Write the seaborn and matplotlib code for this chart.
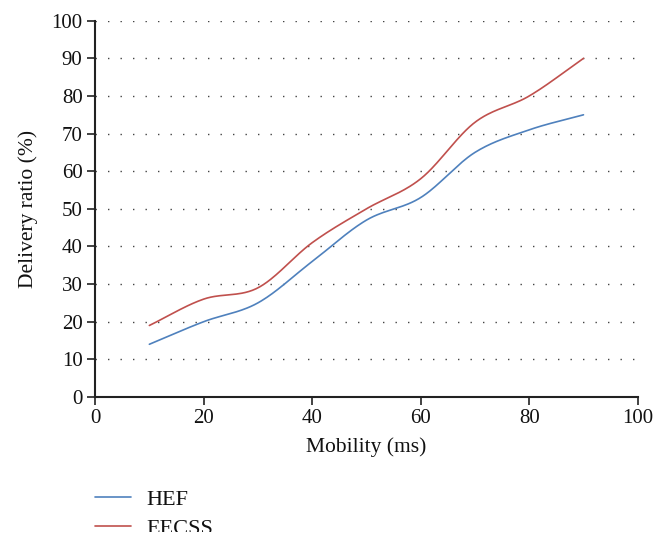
import matplotlib.pyplot as plt
import matplotlib.patches as mpatches
import numpy as np
import pandas as pd
import seaborn as sns

# values
mobility = [10, 20, 30, 40, 50, 60, 70, 80, 90]
hef = [14, 20, 25, 36, 47, 53, 65, 71, 75]
eecss = [19, 26, 29, 41, 50, 58, 73, 80, 90]
series_names = ["HEF", "EECSS"]
x_ticks = [0, 20, 40, 60, 80, 100]
y_ticks = [0, 10, 20, 30, 40, 50, 60, 70, 80, 90, 100]

colors = {"HEF": "#4f81bd", "EECSS": "#c0504d"}


def smooth(xs, ys, n=30):
    # Catmull-Rom curve through the points, like a spreadsheet "smoothed line"
    xs = np.asarray(xs, float)
    ys = np.asarray(ys, float)
    px = np.concatenate([[2 * xs[0] - xs[1]], xs, [2 * xs[-1] - xs[-2]]])
    py = np.concatenate([[2 * ys[0] - ys[1]], ys, [2 * ys[-1] - ys[-2]]])
    out_x, out_y = [], []
    t = np.linspace(0, 1, n, endpoint=False)
    for i in range(1, len(px) - 2):
        for p, out in ((px, out_x), (py, out_y)):
            p0, p1, p2, p3 = p[i - 1], p[i], p[i + 1], p[i + 2]
            out.extend(0.5 * ((2 * p1) + (-p0 + p2) * t
                              + (2 * p0 - 5 * p1 + 4 * p2 - p3) * t ** 2
                              + (-p0 + 3 * p1 - 3 * p2 + p3) * t ** 3))
    out_x.append(xs[-1])
    out_y.append(ys[-1])
    return out_x, out_y


sns.set_theme(style="white")
plt.rcParams['font.family'] = ['Liberation Serif', 'DejaVu Serif']

frames = []
for name, vals in zip(series_names, [hef, eecss]):
    sx, sy = smooth(mobility, vals)
    frames.append(pd.DataFrame({"Mobility": sx, "Ratio": sy, "Series": name}))
df = pd.concat(frames, ignore_index=True)

fig = plt.figure(figsize=(6.65, 5.46), dpi=100)
ax = fig.add_axes([0.143, 0.273, 0.816, 0.689])

sns.lineplot(data=df, x="Mobility", y="Ratio", hue="Series", palette=colors,
             sort=False, estimator=None, linewidth=1.2, ax=ax, legend=False)

ax.set_xlim(0, 100)
ax.set_ylim(0, 100)
ax.set_xticks(x_ticks)
ax.set_yticks(y_ticks)
for yv in y_ticks[1:]:
    ax.axhline(yv, color="#444444", linewidth=1, linestyle=(0, (1, 8)), zorder=0)

for side in ["top", "right"]:
    ax.spines[side].set_visible(False)
for side in ["left", "bottom"]:
    ax.spines[side].set_color("#222222")
    ax.spines[side].set_linewidth(1.5)
ax.tick_params(axis="both", which="major", direction="out", length=6, width=1.2,
               color="#222222", labelcolor="#111111", labelsize=15, pad=3,
               left=True, bottom=True)
ax.set_xlabel("Mobility (ms)", fontsize=15.5, labelpad=6, color="#111111")
ax.set_ylabel("Delivery ratio (%)", fontsize=15.5, labelpad=10, color="#111111")

handles = [plt.Line2D([], [], color=colors[n], linewidth=1.2) for n in series_names]
leg = fig.legend(handles, series_names, loc="upper left", bbox_to_anchor=(0.143, 0.104),
                 frameon=False, fontsize=16, handlelength=1.6, handletextpad=0.7,
                 labelspacing=0.38, borderpad=0, borderaxespad=0)
for txt in leg.get_texts():
    txt.set_color("#111111")

# the reference is cut off just below the second legend entry
fig.patches.append(mpatches.Rectangle((0, 0), 1, 14 / 546, transform=fig.transFigure,
                                      facecolor="white", edgecolor="none", zorder=10))

fig.savefig("out.png", dpi=100)
